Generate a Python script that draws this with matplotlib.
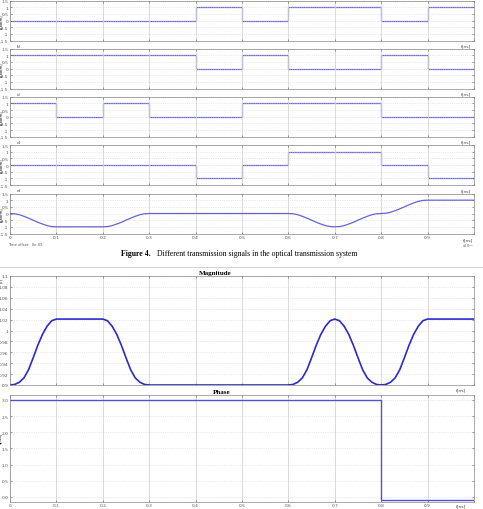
import numpy as np
import matplotlib
matplotlib.use("Agg")
import matplotlib.pyplot as plt

# bit slots (t in ns) and levels of the digital signals b) .. e)
bit_edges = [0, 0.1, 0.2, 0.3, 0.4, 0.5, 0.6, 0.7, 0.8, 0.9, 1.0]
sig_b = [0, 0, 0, 0, 1, 0, 1, 1, 0, 1]
sig_c = [1, 1, 1, 1, 0, 1, 0, 0, 1, 0]
sig_d = [1, 0, 1, 0, 0, 1, 1, 1, 0, 0]
sig_e = [0, 0, 0, 0, -1, 0, 1, 1, 0, -1]

# filtered signal f)
f_t = [0.00, 0.01, 0.02, 0.03, 0.04, 0.05, 0.06, 0.07, 0.08, 0.09, 0.10,
       0.20, 0.21, 0.22, 0.23, 0.24, 0.25, 0.26, 0.27, 0.28, 0.29, 0.30,
       0.60, 0.61, 0.62, 0.63, 0.64, 0.65, 0.66, 0.67, 0.68, 0.69, 0.70,
       0.71, 0.72, 0.73, 0.74, 0.75, 0.76, 0.77, 0.78, 0.79, 0.80,
       0.81, 0.82, 0.83, 0.84, 0.85, 0.86, 0.87, 0.88, 0.89, 0.90, 1.00]
f_v = [0.0, -0.02, -0.09, -0.21, -0.35, -0.50, -0.66, -0.79, -0.91, -0.98, -1.0,
       -1.0, -0.98, -0.91, -0.79, -0.66, -0.50, -0.35, -0.21, -0.09, -0.02, 0.0,
       0.0, -0.02, -0.09, -0.21, -0.35, -0.50, -0.66, -0.79, -0.91, -0.98, -1.0,
       -0.98, -0.91, -0.79, -0.66, -0.50, -0.35, -0.21, -0.09, -0.02, 0.0,
       0.02, 0.09, 0.21, 0.35, 0.50, 0.66, 0.79, 0.91, 0.98, 1.0, 1.0]

# magnitude of the optical field
mag_t = [0.00, 0.01, 0.02, 0.03, 0.04, 0.05, 0.06, 0.07, 0.08, 0.09, 0.10,
         0.20, 0.21, 0.22, 0.23, 0.24, 0.25, 0.26, 0.27, 0.28, 0.29, 0.30,
         0.60, 0.61, 0.62, 0.63, 0.64, 0.65, 0.66, 0.67, 0.68, 0.69, 0.70,
         0.71, 0.72, 0.73, 0.74, 0.75, 0.76, 0.77, 0.78, 0.79, 0.80,
         0.81, 0.82, 0.83, 0.84, 0.85, 0.86, 0.87, 0.88, 0.89, 0.90, 1.00]
mag_v = [0.900, 0.901, 0.905, 0.913, 0.928, 0.950, 0.973, 0.993, 1.008, 1.018, 1.021,
         1.021, 1.018, 1.008, 0.993, 0.973, 0.950, 0.928, 0.913, 0.905, 0.901, 0.900,
         0.900, 0.901, 0.905, 0.913, 0.928, 0.950, 0.973, 0.993, 1.008, 1.018, 1.021,
         1.018, 1.008, 0.993, 0.973, 0.950, 0.928, 0.913, 0.905, 0.901, 0.900,
         0.901, 0.905, 0.913, 0.928, 0.950, 0.973, 0.993, 1.008, 1.018, 1.021, 1.021]

# phase of the optical field
ph_t = [0.0, 0.8, 0.8, 1.0]
ph_v = [3.0, 3.0, -0.1, -0.1]

W, H = 483, 510
line_col = "#6464d6"
grid_col = "#d4d4d4"
tick_fs = 3.2


def rect(left, top, right, bottom):
    return [left / W, 1 - bottom / H, (right - left) / W, (bottom - top) / H]


def style(ax, ylim, yticks, xlabels=False):
    ax.set_xlim(0, 1)
    ax.set_ylim(*ylim)
    ax.set_xticks(np.arange(0, 1.01, 0.1))
    ax.set_yticks(yticks)
    ax.grid(axis="x", color=grid_col, lw=0.6, ls="-")
    ax.grid(axis="y", color=grid_col, lw=0.5, ls=":")
    ax.tick_params(labelsize=tick_fs, length=1.5, width=0.4, pad=1,
                   colors="#555555", direction="in", right=True, top=True)
    for s in ax.spines.values():
        s.set_color("#888888")
        s.set_linewidth(0.5)
    if xlabels:
        ax.set_xticklabels(["0", "0.1", "0.2", "0.3", "0.4", "0.5",
                            "0.6", "0.7", "0.8", "0.9", ""])
    else:
        ax.set_xticklabels([])


fig = plt.figure(figsize=(W / 100, H / 100), dpi=100)

tops = [1.5, 49.5, 97.7, 146.0, 194.5]
names = ["b)", "c)", "d)", "e)", "f)"]
digital = [sig_b, sig_c, sig_d, sig_e]
for i, top in enumerate(tops):
    ax = fig.add_axes(rect(10, top, 474, top + 40))
    if i < 4:
        ax.stairs(digital[i], bit_edges, color=line_col, lw=0.9, baseline=None)
    else:
        ax.plot(f_t, f_v, color=line_col, lw=0.9)
    style(ax, (-1.5, 1.5), [-1.5, -1, -0.5, 0, 0.5, 1, 1.5], xlabels=(i == 4))
    ax.set_yticklabels(["-1.5", "-1", "-0.5", "0", "0.5", "1", "1.5"])
    ax.set_ylabel("E[norm]", fontsize=2.6)
    ax.yaxis.set_label_coords(-0.015, 0.5)
    if i < 4:
        fig.text(17 / W, 1 - (top + 45) / H, names[i], fontsize=3.2, color="#444444",
                 ha="left", va="center")
        fig.text(471 / W, 1 - (top + 45) / H, "t[ns]", fontsize=3.2, color="#444444",
                 ha="right", va="center")
    else:
        fig.text(473 / W, 1 - (top + 45.5) / H, "t[ns]", fontsize=3.2, color="#444444",
                 ha="right", va="center")

fig.text(8 / W, 1 - 245 / H, "Time offset:  0e-09", fontsize=2.6, color="#555555",
         va="center")
fig.text(474 / W, 1 - 246 / H, "x10$^{-9}$", fontsize=2.4, color="#555555",
         ha="right", va="center")

fig.text(151 / W, 1 - 254 / H, "Figure 4.", fontsize=5.6, family="Liberation Serif",
         fontweight="bold", ha="right", va="center")
fig.text(157 / W, 1 - 254 / H,
         "Different transmission signals in the optical transmission system",
         fontsize=5.6, family="Liberation Serif", ha="left", va="center")

# magnitude
axm = fig.add_axes(rect(10, 277, 474, 386))
axm.plot(mag_t, mag_v, color="#2a2ad0", lw=1.2)
style(axm, (0.9, 1.1), np.round(np.arange(0.9, 1.101, 0.02), 2))
axm.set_yticklabels(["0.9", "0.92", "0.94", "0.96", "0.98", "1",
                     "1.02", "1.04", "1.06", "1.08", "1.1"])
axm.set_title("Magnitude", fontsize=5, family="Liberation Serif",
              fontweight="bold", pad=1.5, x=0.442)
axm.set_ylabel("|E|", fontsize=2.6)
axm.yaxis.set_label_coords(-0.016, 0.97)
fig.text(466 / W, 1 - 390 / H, "t[ns]", fontsize=3.2, color="#444444",
         ha="right", va="center")

# phase
axp = fig.add_axes(rect(10, 396, 474, 503))
axp.plot(ph_t, ph_v, color="#5050d8", lw=1.0)
style(axp, (-0.16, 3.15), [0, 0.5, 1, 1.5, 2, 2.5, 3], xlabels=True)
axp.set_title("Phase", fontsize=5, family="Liberation Serif",
              fontweight="bold", pad=1.5, x=0.456)
axp.set_ylabel("φ[rad]", fontsize=2.6)
axp.yaxis.set_label_coords(-0.016, 0.6)
fig.text(466 / W, 1 - 506 / H, "t[ns]", fontsize=3.2, color="#444444",
         ha="right", va="center")

fig.add_artist(plt.Line2D([0.0, 1.0], [1 - 268 / H, 1 - 268 / H],
                          color="#cccccc", lw=0.6))

fig.savefig("out.png", dpi=100)
